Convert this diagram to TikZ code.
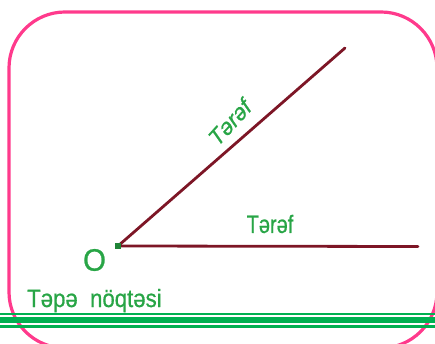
\documentclass[tikz,border=0pt]{standalone}
\usepackage{fontspec}
\setmainfont{Liberation Sans}
\newfontfamily\lblfont[FakeBold=0.8]{Liberation Sans}
\definecolor{rimpink}{RGB}{255,58,140}
\definecolor{raycol}{RGB}{125,22,38}
\definecolor{txtgreen}{RGB}{40,165,70}
\definecolor{bandgreen}{RGB}{0,176,80}
\begin{document}
\begin{tikzpicture}[x=1pt,y=-1pt,
  ray/.style={draw=raycol,line width=2.8pt,line cap=round},
  lbl/.style={text=txtgreen,inner sep=0pt,font=\lblfont\fontsize{25}{25}\selectfont,xscale=0.8},
  band/.style={draw=bandgreen}]
\useasboundingbox (0,0) rectangle (435,344);
\draw[draw=rimpink,line width=3.2pt,rounded corners=56pt] (9,12) rectangle (437,348);
\coordinate (O) at (118,246);
\coordinate (A) at (345,48);
\coordinate (B) at (418,246.5);
\draw[ray] (O) -- (A);
\draw[ray] (O) -- (B);
\node[fill=txtgreen!80!black,minimum size=6pt,inner sep=0pt] (dot) at (O) {};
\node[lbl,rotate=41.1] (t1) at (230,122) {Tərəf};
\node[lbl] (t2) at (270,224) {Tərəf};
\node[text=txtgreen,inner sep=0pt,font=\lblfont\fontsize{31}{31}\selectfont,xscale=0.95] (olab) at (94.5,260) {O};
\node[lbl,anchor=base west,xscale=1.11] (vtx) at (27,307) {Təpə\ \ nöqtəsi};
\draw[band,line width=2pt] (0,314.3) -- (435,314.3);
\draw[band,line width=6pt] (0,320.3) -- (435,320.3);
\draw[band,line width=2.4pt] (0,326.5) -- (435,326.5);
\end{tikzpicture}
\end{document}
